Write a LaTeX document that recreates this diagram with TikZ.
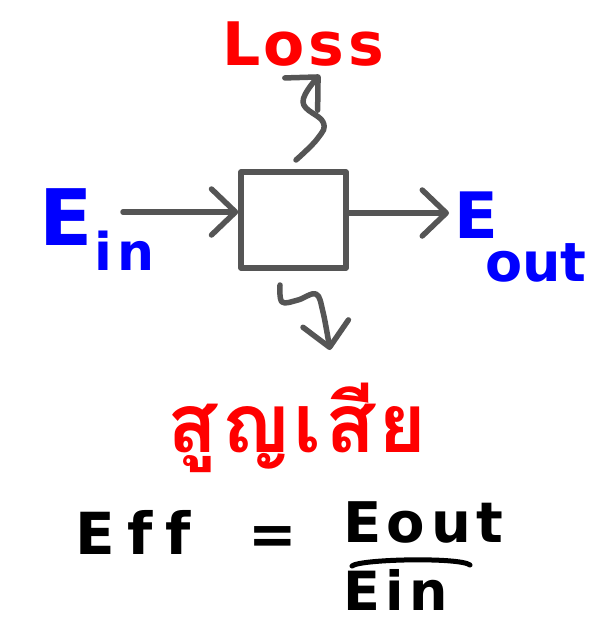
\documentclass[tikz,border=0pt]{standalone}
\usepackage{fontspec}
\setmainfont{DejaVu Sans}
\newfontfamily\thaifont[Script=Thai]{Loma}
\usetikzlibrary{arrows.meta}
\definecolor{ink}{HTML}{555555}
\definecolor{myblue}{HTML}{0000FF}
\definecolor{myred}{HTML}{FF0000}
\tikzset{
  conn/.style={draw=ink, line width=5.5pt, line cap=round, line join=round,
    -{Straight Barb[length=24pt,width=46pt,line cap=round,line join=round]}},
  blockbox/.style={draw=ink, line width=5.5pt, line join=round},
  bluetxt/.style={text=myblue, inner sep=0pt, anchor=base, font=\bfseries},
  redtxt/.style={text=myred, inner sep=0pt, anchor=base, font=\bfseries},
  blacktxt/.style={text=black, inner sep=0pt, anchor=base, font=\bfseries},
}
\begin{document}
\begin{tikzpicture}[x=1pt,y=-1pt]
\useasboundingbox (0,0) rectangle (606,623);
% block
\node[blockbox, minimum width=105pt, minimum height=96pt, inner sep=0pt] (box) at (293.5,220) {};
% E_in
\node[bluetxt] (ein) at (66,245) {\fontsize{78}{78}\selectfont E};
\node[bluetxt] (einsub) at (125,270) {\fontsize{52}{52}\selectfont\addfontfeature{LetterSpace=10}in};
% E_out
\node[bluetxt, text depth=0pt] (eout) at (476,238) {\fontsize{64}{64}\selectfont E};
\node[bluetxt, text height=30pt] (eoutsub) at (536,281) {\fontsize{54}{54}\selectfont out};
% Loss
\node[redtxt] (loss) at (303,66) {\fontsize{60}{60}\selectfont\addfontfeature{LetterSpace=6}Loss};
% Thai
\node[redtxt] (thai) at (297,452) {\fontsize{82}{82}\selectfont\thaifont\addfontfeature{LetterSpace=4}สูญเสีย};
% Efficiency
\node[blacktxt, anchor=base west] (eff) at (75,554) {\fontsize{58}{58}\selectfont\addfontfeature{LetterSpace=22,Ligatures=NoCommon}Eff};
\node[blacktxt] (eq) at (273,554) {\fontsize{58}{58}\selectfont =};
\node[blacktxt, anchor=base west] (num) at (343,542) {\fontsize{56}{56}\selectfont\addfontfeature{LetterSpace=10}Eout};
\node[blacktxt, anchor=base west, text depth=0pt] (den) at (343,610) {\fontsize{54}{54}\selectfont\addfontfeature{LetterSpace=10}Ein};
\coordinate (barL) at (352,566);
\coordinate (barR) at (470,565);
\draw[line width=5pt, line cap=round] (barL) .. controls (360,559) and (460,557) .. (barR);
% connectors
\coordinate (inS) at (123,212);
\draw[conn] (inS) -- (inS -| box.west);
\coordinate (outS) at (box.east |- 0,213);
\coordinate (outE) at (449,213);
\draw[conn] (outS) -- (outE);
\coordinate (upS) at (296,160);
\coordinate (upE) at (320,75);
\draw[conn] plot[smooth, tension=0.7] coordinates {(upS) (318,138) (323,122) (303,102) (upE)};
\coordinate (dnS) at (280,285);
\coordinate (dnE) at (330,350);
\draw[conn] plot[smooth, tension=0.6] coordinates {(dnS) (282,302) (298,300) (316,294) (323,312) (dnE)};
\end{tikzpicture}
\end{document}
